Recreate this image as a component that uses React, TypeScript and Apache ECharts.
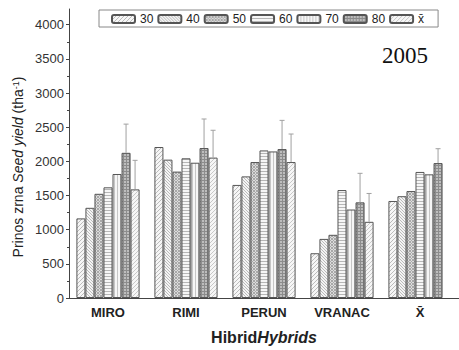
import React, { useEffect, useRef } from "react";
import * as echarts from "echarts";

// Hybrids on the category axis, nitrogen levels as series
const categories = ["MIRO", "RIMI", "PERUN", "VRANAC", "X\u0304"];
const seriesNames = ["30", "40", "50", "60", "70", "80", "x\u0304"];

const s30 = [1165, 2210, 1655, 655, 1420];
const s40 = [1320, 2025, 1780, 865, 1490];
const s50 = [1525, 1850, 1990, 925, 1565];
const s60 = [1620, 2045, 2160, 1580, 1845];
const s70 = [1815, 1980, 2145, 1295, 1810];
const s80 = [2125, 2195, 2180, 1400, 1975];
const sMean = [1590, 2055, 1990, 1115, null];

// upward error (standard deviation) for the 80 and mean series
const err80 = [420, 425, 420, 425, 210];
const errMean = [425, 400, 410, 415, null];

const yTicks = [0, 500, 1000, 1500, 2000, 2500, 3000, 3500, 4000];

const FONT = "Liberation Sans, Arial, sans-serif";
const BAR_GAP = 0.19;

type Kind = "diagR" | "diagL" | "cross" | "horiz" | "vert" | "grid";

function makePattern(kind: Kind, bg: string, fg: string) {
  const size = 12;
  const c = document.createElement("canvas");
  c.width = size;
  c.height = size;
  const ctx = c.getContext("2d")!;
  ctx.fillStyle = bg;
  ctx.fillRect(0, 0, size, size);
  ctx.fillStyle = fg;
  for (let x = 0; x < size; x++) {
    for (let y = 0; y < size; y++) {
      let on = false;
      if (kind === "diagR") on = (x + y) % 4 === 0;
      else if (kind === "diagL") on = (x - y + size) % 3 === 0;
      else if (kind === "cross") on = (x + y) % 3 === 0 || (x - y + size) % 3 === 0;
      else if (kind === "horiz") on = y % 3 === 0;
      else if (kind === "vert") on = x % 3 === 0;
      else if (kind === "grid") on = x % 3 === 0 || y % 3 === 0;
      if (on) ctx.fillRect(x, y, 1, 1);
    }
  }
  return { image: c.toDataURL(), repeat: "repeat", imageWidth: size, imageHeight: size };
}

export default function App() {
  const ref = useRef<HTMLDivElement>(null);

  useEffect(() => {
    document.body.style.margin = "0";
    if (!ref.current) return;
    const chart = echarts.init(ref.current, null, { renderer: "svg" });

    const patterns = [
      makePattern("diagR", "#f6f6f6", "#bcbcbc"),
      makePattern("diagL", "#f4f4f4", "#bababa"),
      makePattern("cross", "#dcdcdc", "#a8a8a8"),
      makePattern("horiz", "#f6f6f6", "#b6b6b6"),
      makePattern("vert", "#f6f6f6", "#c6c6c6"),
      makePattern("grid", "#bdbdbd", "#8c8c8c"),
      makePattern("diagR", "#f6f6f6", "#c8c8c8"),
    ];
    const values = [s30, s40, s50, s60, s70, s80, sMean];

    const barSeries = values.map((vals, i) => ({
      name: seriesNames[i],
      type: "bar",
      data: vals,
      barGap: "0%",
      barCategoryGap: BAR_GAP * 100 + "%",
      itemStyle: { color: patterns[i], borderColor: "#555", borderWidth: 1 },
    }));

    const errorSeries = (idx: number, vals: (number | null)[], errs: (number | null)[]) => ({
      type: "custom",
      z: 3,
      data: vals
        .map((v, j) => (v == null || errs[j] == null ? null : [j, v, errs[j]]))
        .filter((d) => d !== null),
      encode: { x: 0, y: 1 },
      renderItem: (_params: any, api: any) => {
        const j = api.value(0);
        const v = api.value(1);
        const e = api.value(2);
        const base = api.coord([j, v]);
        const top = api.coord([j, v + e]);
        const band = api.size([1, 0])[0];
        const bw = (band * (1 - BAR_GAP)) / 7;
        const x = base[0] + (idx - 3) * bw;
        const style = { stroke: "#a0a0a0", lineWidth: 1 };
        return {
          type: "group",
          children: [
            { type: "line", shape: { x1: x, y1: base[1], x2: x, y2: top[1] }, style },
            { type: "line", shape: { x1: x - 2.5, y1: top[1], x2: x + 2.5, y2: top[1] }, style },
          ],
        };
      },
    });

    chart.setOption({
      animation: false,
      textStyle: { fontFamily: FONT },
      grid: { left: 69, right: -3, top: 9, bottom: 47.5 },
      legend: {
        data: seriesNames,
        left: 99,
        top: 10,
        itemWidth: 23,
        itemHeight: 8,
        itemGap: 4,
        padding: [3, 14, 2, 12],
        borderColor: "#888",
        borderWidth: 1,
        selectedMode: false,
        textStyle: { fontFamily: FONT, fontSize: 12, color: "#222" },
      },
      xAxis: [
        {
          type: "category",
          data: categories,
          axisLine: { lineStyle: { color: "#444", width: 1 } },
          axisTick: { alignWithLabel: true, length: 4, lineStyle: { color: "#444" } },
          axisLabel: { fontFamily: FONT, fontSize: 13, fontWeight: "bold", color: "#222", margin: 8 },
          name: "{b|Hibrid}{bi|Hybrids}",
          nameLocation: "middle",
          nameGap: 31,
          nameTextStyle: {
            rich: {
              b: { fontFamily: FONT, fontSize: 16, fontWeight: "bold", color: "#222" },
              bi: { fontFamily: FONT, fontSize: 16, fontWeight: "bold", fontStyle: "italic", color: "#222" },
            },
          },
        },
        {
          type: "category",
          data: categories,
          position: "bottom",
          axisLine: { show: false },
          axisTick: { inside: true, length: 2, lineStyle: { color: "#444" } },
          axisLabel: { show: false },
        },
      ],
      yAxis: {
        type: "value",
        min: 0,
        max: 4230,
        interval: 500,
        axisLine: { show: true, lineStyle: { color: "#444", width: 1 } },
        axisTick: { show: true, length: 3, lineStyle: { color: "#444" }, customValues: yTicks },
        minorTick: { show: true, splitNumber: 2, length: 2, lineStyle: { color: "#444" } },
        splitLine: { show: false },
        axisLabel: {
          fontFamily: FONT,
          fontSize: 13,
          color: "#333",
          margin: 5,
          customValues: yTicks,
          formatter: (v: number) => String(v),
        },
      },
      graphic: [
        {
          type: "text",
          x: 382,
          y: 44,
          style: { text: "2005", fontFamily: "Liberation Serif, serif", fontSize: 23, fill: "#111" },
        },
        {
          type: "text",
          x: 18,
          y: 167,
          rotation: Math.PI / 2,
          style: {
            text: "{n|Prinos zrna }{i|Seed yield}{n| (tha}{s|-1}{n|)}",
            align: "center",
            verticalAlign: "middle",
            rich: {
              n: { fontFamily: FONT, fontSize: 14, fill: "#222" },
              i: { fontFamily: FONT, fontSize: 14, fontStyle: "italic", fill: "#222" },
              s: { fontFamily: FONT, fontSize: 9, fill: "#222", verticalAlign: "top" },
            },
          },
        },
      ],
      series: [...barSeries, errorSeries(5, s80, err80), errorSeries(6, sMean, errMean)],
    });

    return () => chart.dispose();
  }, []);

  return <div ref={ref} style={{ width: 459, height: 350 }} />;
}
